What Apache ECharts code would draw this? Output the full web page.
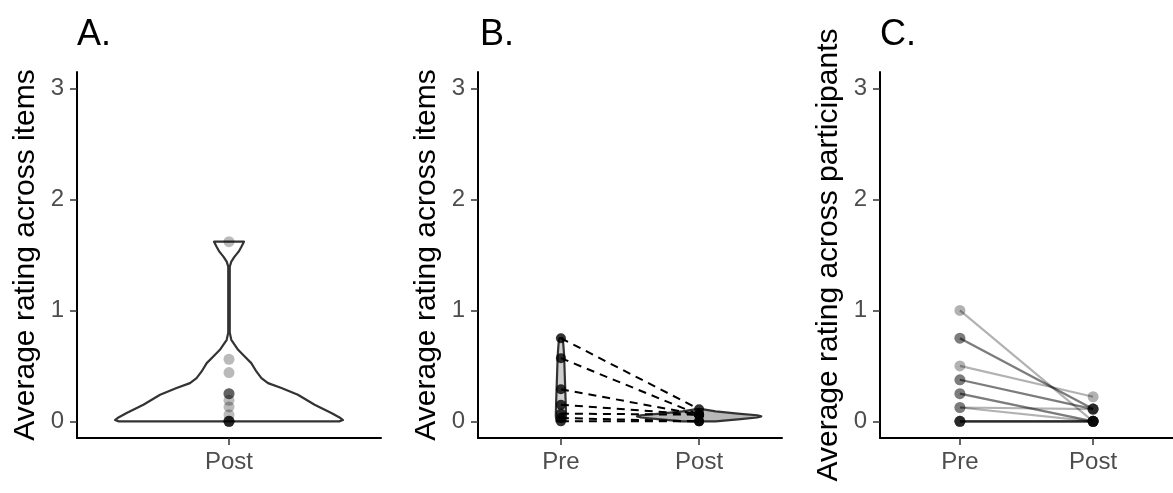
<!DOCTYPE html>
<html><head><meta charset="utf-8">
<script src="https://cdn.jsdelivr.net/npm/echarts@6/dist/echarts.min.js"></script>
<style>html,body{margin:0;padding:0;background:#fff}#c{width:1173px;height:493px}</style>
</head><body><div id="c"></div>
<script>
// ---- tick labels / categories ----
const yTickValues = [0, 1, 2, 3];
const catsA = ['Post'];
const catsBC = ['Pre', 'Post'];
const panelTitles = ['A.', 'B.', 'C.'];
const yTitles = ['Average rating across items', 'Average rating across items', 'Average rating across participants'];

// ---- Panel A: item averages (Post) ----
const aPost = [1.62, 0.56, 0.44, 0.25, 0.25, 0.25, 0.19, 0.13, 0.06, 0, 0, 0, 0, 0, 0];
// violin outline: rating level and half-width (category units)
const aViolinY = [0, 0.012, 0.03, 0.075, 0.15, 0.24, 0.30, 0.345, 0.39, 0.45, 0.525, 0.585, 0.645, 0.735, 0.80, 1.0, 1.2, 1.395, 1.44, 1.485, 1.53, 1.575, 1.62];
const aViolinW = [0.435, 0.45, 0.44, 0.404, 0.338, 0.272, 0.207, 0.154, 0.128, 0.108, 0.088, 0.062, 0.036, 0.009, 0.003, 0.003, 0.003, 0.003, 0.009, 0.022, 0.038, 0.049, 0.059];

// ---- Panel B: item averages Pre / Post ----
const bPre = [0.75, 0.57, 0.29, 0.15, 0.07, 0.03, 0];
const bPost = [0.11, 0.06, 0.06, 0.06, 0.06, 0, 0];
const bPreViolinY = [0, 0.05, 0.15, 0.3, 0.45, 0.6, 0.7, 0.75];
const bPreViolinW = [0.032, 0.037, 0.035, 0.031, 0.027, 0.023, 0.017, 0.011];
const bPostViolinY = [0, 0.02, 0.035, 0.045, 0.055, 0.07, 0.09, 0.11];
const bPostViolinW = [0.12, 0.3, 0.42, 0.45, 0.42, 0.28, 0.12, 0.02];

// ---- Panel C: participant averages Pre / Post ----
const cPre = [1.0, 0.75, 0.75, 0.5, 0.375, 0.375, 0.25, 0.25, 0.125, 0.125, 0, 0, 0, 0, 0];
const cPost = [0, 0.111, 0.111, 0.222, 0.111, 0.111, 0, 0, 0.111, 0, 0, 0, 0, 0, 0];

const FONT = "'Liberation Sans', Arial, sans-serif";
const chart = echarts.init(document.getElementById('c'), null, {renderer: 'canvas'});

const grids = [77, 478, 880].map(l => ({left: l, top: 72, width: 304, height: 366}));

function xAxisFor(i, cats) {
  const vals = cats.map((_, k) => k + 1);
  return {
    type: 'value', gridIndex: i, min: 0.4, max: cats.length + 0.6,
    axisLine: {show: true, onZero: false, lineStyle: {color: '#000', width: 2}},
    axisTick: {show: true, customValues: vals, length: 7, lineStyle: {color: '#333', width: 1.5}},
    axisLabel: {show: true, customValues: vals, margin: 12, color: '#4d4d4d', fontSize: 24, fontFamily: FONT,
      formatter: v => cats[Math.round(v) - 1] || ''},
    splitLine: {show: false}
  };
}
function yAxisFor(i) {
  return {
    type: 'value', gridIndex: i, min: -0.15, max: 3.15,
    axisLine: {show: true, onZero: false, lineStyle: {color: '#000', width: 2}},
    axisTick: {show: true, customValues: yTickValues, length: 7, lineStyle: {color: '#333', width: 1.5}},
    axisLabel: {show: true, customValues: yTickValues, margin: 13, color: '#4d4d4d', fontSize: 24, fontFamily: FONT},
    splitLine: {show: false},
    name: yTitles[i], nameLocation: 'middle', nameGap: 36, nameRotate: 90,
    nameTextStyle: {color: '#000', fontSize: 30, fontFamily: FONT}
  };
}

function violin(ax, center, ys, ws, fill) {
  return {
    type: 'custom', xAxisIndex: ax, yAxisIndex: ax, silent: true, z: 2,
    data: [[center, 0]],
    renderItem: function (params, api) {
      const left = [], right = [];
      for (let i = 0; i < ys.length; i++) {
        left.push(api.coord([center - ws[i], ys[i]]));
        right.push(api.coord([center + ws[i], ys[i]]));
      }
      return {type: 'polygon', shape: {points: left.concat(right.reverse())},
        style: {fill: fill, stroke: '#333', lineWidth: 2.2, lineJoin: 'round'}};
    }
  };
}

const series = [];
// Panel A
series.push(violin(0, 1, aViolinY, aViolinW, 'rgba(0,0,0,0)'));
series.push({type: 'scatter', xAxisIndex: 0, yAxisIndex: 0, z: 3, symbol: 'circle', symbolSize: 11,
  itemStyle: {color: '#000', opacity: 0.27}, data: aPost.map(v => [1, v])});
// Panel B
series.push(violin(1, 1, bPreViolinY, bPreViolinW, '#d0d0d0'));
series.push(violin(1, 2, bPostViolinY, bPostViolinW, '#b8b8b8'));
bPre.forEach((v, i) => {
  series.push({type: 'line', xAxisIndex: 1, yAxisIndex: 1, z: 3, showSymbol: false, symbol: 'none',
    lineStyle: {color: '#000', width: 2, type: [8, 6]}, data: [[1, v], [2, bPost[i]]]});
});
series.push({type: 'scatter', xAxisIndex: 1, yAxisIndex: 1, z: 4, symbol: 'circle', symbolSize: 10,
  itemStyle: {color: '#000'}, data: bPre.map(v => [1, v]).concat(bPost.map(v => [2, v]))});
// Panel C
cPre.forEach((v, i) => {
  series.push({type: 'line', xAxisIndex: 2, yAxisIndex: 2, z: 3, showSymbol: false, symbol: 'none',
    lineStyle: {color: '#000', width: 2.2, opacity: 0.3}, data: [[1, v], [2, cPost[i]]]});
});
series.push({type: 'scatter', xAxisIndex: 2, yAxisIndex: 2, z: 4, symbol: 'circle', symbolSize: 11,
  itemStyle: {color: '#000', opacity: 0.3}, data: cPre.map(v => [1, v]).concat(cPost.map(v => [2, v]))});

chart.setOption({
  animation: false,
  backgroundColor: '#fff',
  grid: grids,
  xAxis: [xAxisFor(0, catsA), xAxisFor(1, catsBC), xAxisFor(2, catsBC)],
  yAxis: [yAxisFor(0), yAxisFor(1), yAxisFor(2)],
  graphic: panelTitles.map((t, i) => ({type: 'text', left: [77, 480, 880][i], top: 17,
    style: {text: t, fontSize: 36, fontFamily: FONT, fill: '#000'}})),
  series: series
});
</script></body></html>
